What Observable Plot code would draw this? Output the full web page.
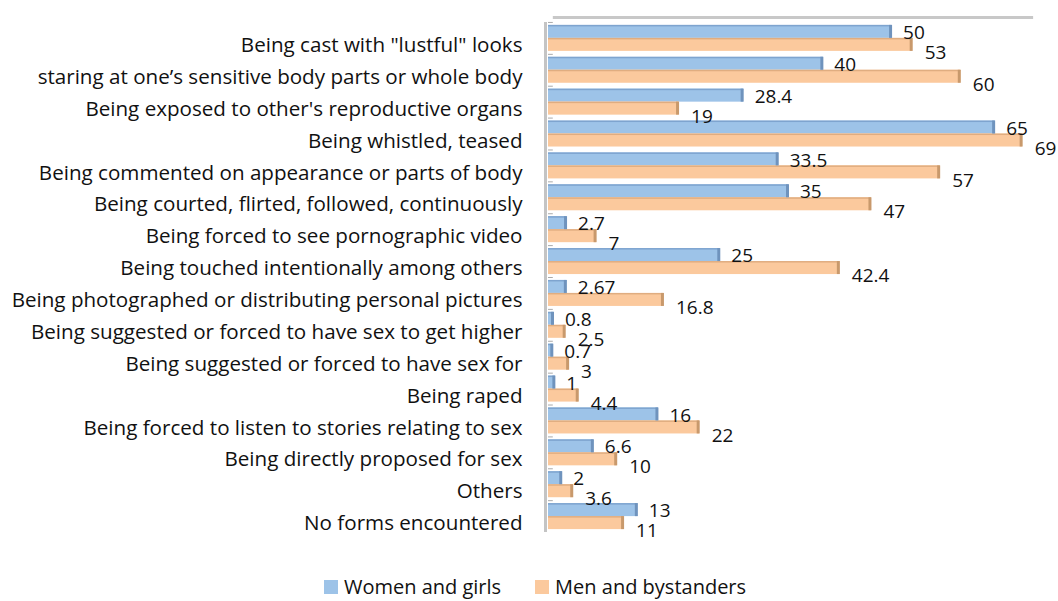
<!DOCTYPE html>
<html>
<head>
<meta charset="utf-8">
<script src="https://cdn.jsdelivr.net/npm/d3@7"></script>
<script src="https://cdn.jsdelivr.net/npm/@observablehq/plot@0.6"></script>
<style>
  body { margin: 0; background: #fff; font-family: "Open Sans", Lato, sans-serif; }
  #chart svg { display: block; }
  .legend { display: flex; justify-content: center; align-items: center; margin-top: 30px; font-size: 20px; line-height: 24px; height: 24px; color: #111; padding-left: 12px; }
  .legend span.sw { display: inline-block; width: 14px; height: 14px; margin-right: 6px; }
  .legend .item { display: flex; align-items: center; margin: 0 17px; }
</style>
</head>
<body>
<div id="chart"></div>
<script>
const categories = [
  "Being cast with \"lustful\" looks",
  "staring at one\u2019s sensitive body parts or whole body",
  "Being exposed to other's reproductive organs",
  "Being whistled, teased",
  "Being commented on appearance or parts of body",
  "Being courted, flirted, followed, continuously",
  "Being forced to see pornographic video",
  "Being touched intentionally among others",
  "Being photographed or distributing personal pictures",
  "Being suggested or forced to have sex to get higher",
  "Being suggested or forced to have sex for",
  "Being raped",
  "Being forced to listen to stories relating to sex",
  "Being directly proposed for sex",
  "Others",
  "No forms encountered"
];
const seriesNames = ["Women and girls", "Men and bystanders"];
const women = [50, 40, 28.4, 65, 33.5, 35, 2.7, 25, 2.67, 0.8, 0.7, 1, 16, 6.6, 2, 13];
const men = [53, 60, 19, 69, 57, 47, 7, 42.4, 16.8, 2.5, 3, 4.4, 22, 10, 3.6, 11];
const colors = ["#9dc3e8", "#fbc99d"];
const capColors = ["#6f93bd", "#c8996c"];

const womenData = categories.map((c, i) => ({category: c, value: women[i]}));
const menData = categories.map((c, i) => ({category: c, value: men[i]}));

const W = 1058, H = 545, mt = 19, mb = 10, pad = 0.185;
const step = (H - mt - mb) / (categories.length + pad);
const bw = step * (1 - pad);
const half = bw / 2;
const font = "'Open Sans', Lato, sans-serif";

const chart = Plot.plot({
  width: W,
  height: H,
  marginLeft: 548,
  marginRight: 29,
  marginTop: mt,
  marginBottom: mb,
  style: { fontFamily: font, fontSize: "20px", color: "#111", background: "#fff" },
  x: { domain: [0, 70], axis: null },
  y: { domain: categories, padding: pad, round: false, axis: null },
  marks: [
    // back wall top edge
    Plot.ruleY([categories[0]], { y: d => d, x1: 0.7, x2: 70.6, dy: -(half + pad * step + 2), stroke: "#c8c8c8", strokeWidth: 3 }),
    // left wall
    Plot.ruleX([0], { dx: -3, stroke: "#c4c4c4", strokeWidth: 3, insetTop: 3, insetBottom: 3 }),
    // small category dividers
    Plot.ruleY(categories, { y: d => d, x1: 0, x2: 0.7, dy: -step / 2, stroke: "#aaa", strokeWidth: 1 }),
    // bars
    Plot.barX(womenData, { x: "value", y: "category", fill: colors[0], insetBottom: half }),
    Plot.barX(menData, { x: "value", y: "category", fill: colors[1], insetTop: half }),
    // top bevel
    Plot.barX(womenData, { x: "value", y: "category", fill: "#7ea4cf", insetBottom: bw - 1.5 }),
    Plot.barX(menData, { x: "value", y: "category", fill: "#e0ad80", insetTop: half, insetBottom: half - 1.5 }),
    // end caps
    Plot.tickX(womenData, { x: "value", y: "category", stroke: capColors[0], strokeWidth: 3, dx: -1.5, insetBottom: half }),
    Plot.tickX(menData, { x: "value", y: "category", stroke: capColors[1], strokeWidth: 3, dx: -1.5, insetTop: half }),
    // value labels
    Plot.text(womenData, { x: "value", y: "category", text: d => String(d.value), textAnchor: "start", dx: 11, dy: -half / 2 + 1, fill: "#111", fontSize: 19 }),
    Plot.text(menData, { x: "value", y: "category", text: d => String(d.value), textAnchor: "start", dx: 12, dy: half / 2 + 8, fill: "#111", fontSize: 19 }),
    // category labels
    Plot.text(categories, { x: 0, y: d => d, text: d => d, textAnchor: "end", dx: -26, dy: 7, fill: "#111", fontSize: 20.6 })
  ]
});
document.getElementById("chart").appendChild(chart);

const legend = document.createElement("div");
legend.className = "legend";
seriesNames.forEach((s, i) => {
  const item = document.createElement("div");
  item.className = "item";
  const sw = document.createElement("span");
  sw.className = "sw";
  sw.style.background = colors[i];
  item.appendChild(sw);
  item.appendChild(document.createTextNode(s));
  legend.appendChild(item);
});
document.body.appendChild(legend);
</script>
</body>
</html>
